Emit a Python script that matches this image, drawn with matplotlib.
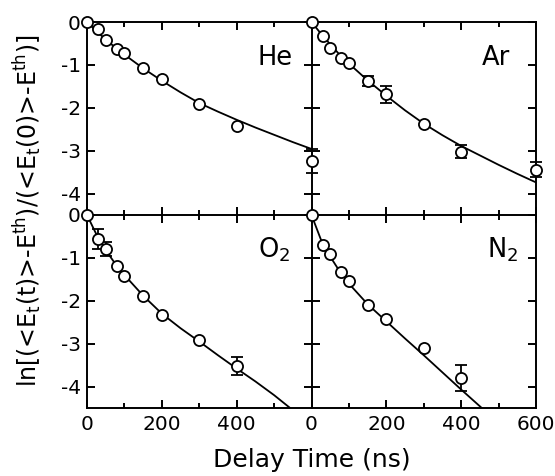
import matplotlib
matplotlib.use('Agg')
import matplotlib.pyplot as plt
import numpy as np

plt.rcParams['font.family'] = ['DejaVu Sans']
plt.rcParams['axes.unicode_minus'] = False
plt.rcParams['mathtext.fontset'] = 'dejavusans'

# ---------------- data ----------------
t_long = [0, 30, 50, 80, 100, 150, 200, 300, 400, 600]
t_short = [0, 30, 50, 80, 100, 150, 200, 300, 400]

he_vals = [0, -0.17, -0.42, -0.62, -0.73, -1.08, -1.34, -1.92, -2.43, -3.23]
he_err = [0, 0, 0, 0, 0, 0, 0, 0, 0, 0.28]

ar_vals = [0, -0.33, -0.60, -0.83, -0.95, -1.38, -1.69, -2.37, -3.02, -3.44]
ar_err = [0, 0, 0, 0, 0, 0.12, 0.20, 0, 0.16, 0.17]

o2_vals = [0, -0.56, -0.80, -1.19, -1.43, -1.88, -2.34, -2.92, -3.52]
o2_err = [0, 0.23, 0.16, 0, 0, 0, 0, 0, 0.20]

n2_vals = [0, -0.70, -0.90, -1.33, -1.54, -2.11, -2.42, -3.10, -3.80]
n2_err = [0, 0, 0, 0, 0, 0, 0, 0, 0.31]

# fitted curves
fit_t = [0, 25, 50, 75, 100, 150, 200, 250, 300, 350, 400, 450, 500, 550, 600]
he_fit = [0, -0.21, -0.41, -0.59, -0.76, -1.08, -1.37, -1.64, -1.89, -2.09,
          -2.28, -2.46, -2.63, -2.80, -2.96]
ar_fit = [0, -0.27, -0.52, -0.76, -0.97, -1.36, -1.72, -2.06, -2.37, -2.64,
          -2.89, -3.11, -3.33, -3.54, -3.74]
o2_fit = [0, -0.45, -0.82, -1.13, -1.40, -1.88, -2.30, -2.64, -2.95, -3.27,
          -3.58, -3.88, -4.20, -4.55, -4.87]
n2_fit = [0, -0.57, -0.97, -1.31, -1.60, -2.08, -2.48, -2.88, -3.27, -3.67,
          -4.07, -4.46, -4.85, -5.24, -5.63]

panel_names = ['He', 'Ar', r'O$_2$', r'N$_2$']
x_major = [0, 200, 400, 600]
x_minor = [100, 300, 500]
y_major = [0, -1, -2, -3, -4]
xlab = 'Delay Time (ns)'
ylab = r'ln[(<E$_\mathrm{t}$(t)>-E$^{\mathrm{th}}$)/(<E$_\mathrm{t}$(0)>-E$^{\mathrm{th}}$)]'

# ---------------- figure ----------------
W, H = 555, 476
fig = plt.figure(figsize=(W / 100, H / 100), dpi=100)
fig.patch.set_facecolor('white')

left, pw = 87 / W, 224.5 / W
top_y0 = 1 - 215 / H
bot_y0 = 1 - 408 / H
ph = 193 / H

rects = {
    'TL': [left, top_y0, pw, ph],
    'TR': [left + pw, top_y0, pw, ph],
    'BL': [left, bot_y0, pw, ph],
    'BR': [left + pw, bot_y0, pw, ph],
}
order = ['TL', 'TR', 'BL', 'BR']
datasets = [
    (t_long, he_vals, he_err, he_fit),
    (t_long, ar_vals, ar_err, ar_fit),
    (t_short, o2_vals, o2_err, o2_fit),
    (t_short, n2_vals, n2_err, n2_fit),
]
label_x = [0.918, 0.886, 0.905, 0.92]

lw = 1.4
for i, key in enumerate(order):
    ax = fig.add_axes(rects[key])
    ax.set_zorder(i)
    ax.set_facecolor('none')
    t, v, e, fit = datasets[i]
    t = np.array(t, float)
    v = np.array(v, float)
    e = np.array(e, float)

    ax.plot(fit_t, fit, color='black', lw=1.3, zorder=2)
    m = e > 0
    if m.any():
        eb = ax.errorbar(t[m], v[m], yerr=e[m], fmt='none', ecolor='black',
                         elinewidth=1.3, capsize=4.5, capthick=1.3, zorder=3)
        for a in list(eb.lines[1]) + list(eb.lines[2]):
            a.set_clip_on(False)
    ax.plot(t, v, 'o', mfc='white', mec='black', ms=8.0, mew=1.3,
            zorder=4, clip_on=False)

    ax.set_xlim(0, 600)
    ax.set_ylim(-4.5, 0)
    ax.set_xticks(x_major)
    ax.set_xticks(x_minor, minor=True)
    ax.set_yticks(y_major)
    ax.tick_params(which='both', direction='in', top=True, right=True,
                   bottom=True, left=True, width=lw, labelsize=14.5)
    ax.tick_params(which='major', length=5.5)
    ax.tick_params(which='minor', length=3.5)
    ax.tick_params(axis='x', pad=5)
    ax.tick_params(axis='y', pad=4.5)
    for s in ax.spines.values():
        s.set_linewidth(lw)

    if key in ('TL', 'TR'):
        ax.tick_params(axis='x', labelbottom=False)
    if key in ('BL', 'BR'):
        ax.spines['top'].set_visible(False)
    if key in ('TR', 'BR'):
        ax.tick_params(axis='y', labelleft=False)
        ax.spines['left'].set_visible(False)
    if key == 'BL':
        ax.set_xticklabels(['0', '200', '400', ''])

    ax.text(label_x[i], 0.778, panel_names[i], transform=ax.transAxes,
            ha='right', va='baseline', fontsize=18.5)

fig.text((87 + 536) / 2 / W, 1 - 460 / H, xlab, ha='center', va='center',
         fontsize=18)
fig.text(28 / W, 1 - 211 / H, ylab, ha='center', va='center',
         rotation=90, fontsize=17)

fig.savefig('out.png', dpi=100, facecolor='white')
